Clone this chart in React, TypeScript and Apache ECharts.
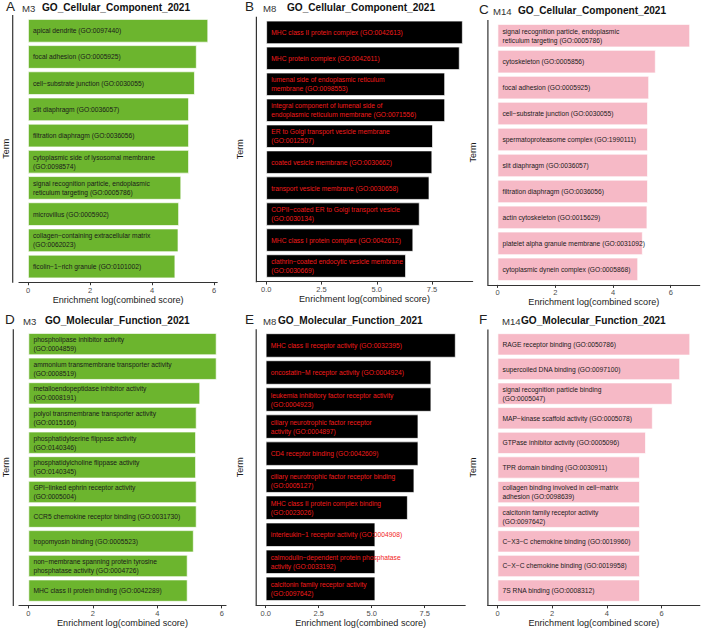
import React, { useEffect, useRef } from "react";
import * as echarts from "echarts";

// ---- data ----
const termsA = [
  "apical dendrite (GO:0097440)",
  "focal adhesion (GO:0005925)",
  "cell−substrate junction (GO:0030055)",
  "slit diaphragm (GO:0036057)",
  "filtration diaphragm (GO:0036056)",
  "cytoplasmic side of lysosomal membrane\n(GO:0098574)",
  "signal recognition particle, endoplasmic\nreticulum targeting (GO:0005786)",
  "microvillus (GO:0005902)",
  "collagen−containing extracellular matrix\n(GO:0062023)",
  "ficolin−1−rich granule (GO:0101002)",
];
const scoresA = [5.81, 5.44, 5.38, 5.19, 5.19, 5.19, 4.94, 4.87, 4.85, 4.75];

const termsB = [
  "MHC class II protein complex (GO:0042613)",
  "MHC protein complex (GO:0042611)",
  "lumenal side of endoplasmic reticulum\nmembrane (GO:0098553)",
  "integral component of lumenal side of\nendoplasmic reticulum membrane (GO:0071556)",
  "ER to Golgi transport vesicle membrane\n(GO:0012507)",
  "coated vesicle membrane (GO:0030662)",
  "transport vesicle membrane (GO:0030658)",
  "COPII−coated ER to Golgi transport vesicle\n(GO:0030134)",
  "MHC class I protein complex (GO:0042612)",
  "clathrin−coated endocytic vesicle membrane\n(GO:0030669)",
];
const scoresB = [8.89, 8.75, 8.09, 8.09, 7.54, 7.51, 7.38, 6.94, 6.65, 6.32];

const termsC = [
  "signal recognition particle, endoplasmic\nreticulum targeting (GO:0005786)",
  "cytoskeleton (GO:0005856)",
  "focal adhesion (GO:0005925)",
  "cell−substrate junction (GO:0030055)",
  "spermatoproteasome complex (GO:1990111)",
  "slit diaphragm (GO:0036057)",
  "filtration diaphragm (GO:0036056)",
  "actin cytoskeleton (GO:0015629)",
  "platelet alpha granule membrane (GO:0031092)",
  "cytoplasmic dynein complex (GO:0005868)",
];
const scoresC = [6.67, 5.48, 5.25, 5.21, 5.21, 5.21, 5.21, 5.19, 5.03, 4.87];

const termsD = [
  "phospholipase inhibitor activity\n(GO:0004859)",
  "ammonium transmembrane transporter activity\n(GO:0008519)",
  "metalloendopeptidase inhibitor activity\n(GO:0008191)",
  "polyol transmembrane transporter activity\n(GO:0015166)",
  "phosphatidylserine flippase activity\n(GO:0140346)",
  "phosphatidylcholine flippase activity\n(GO:0140345)",
  "GPI−linked ephrin receptor activity\n(GO:0005004)",
  "CCR5 chemokine receptor binding (GO:0031730)",
  "tropomyosin binding (GO:0005523)",
  "non−membrane spanning protein tyrosine\nphosphatase activity (GO:0004726)",
  "MHC class II protein binding (GO:0042289)",
];
const scoresD = [5.84, 5.84, 5.33, 5.22, 5.2, 5.2, 5.22, 5.22, 5.13, 4.94, 4.94];

const termsE = [
  "MHC class II receptor activity (GO:0032395)",
  "oncostatin−M receptor activity (GO:0004924)",
  "leukemia inhibitory factor receptor activity\n(GO:0004923)",
  "ciliary neurotrophic factor receptor\nactivity (GO:0004897)",
  "CD4 receptor binding (GO:0042609)",
  "ciliary neurotrophic factor receptor binding\n(GO:0005127)",
  "MHC class II protein complex binding\n(GO:0023026)",
  "interleukin−1 receptor activity (GO:0004908)",
  "calmodulin−dependent protein phosphatase\nactivity (GO:0033192)",
  "calcitonin family receptor activity\n(GO:0097642)",
];
const scoresE = [8.96, 7.81, 7.81, 7.2, 7.2, 7.01, 6.7, 5.17, 5.17, 5.17];

const termsF = [
  "RAGE receptor binding (GO:0050786)",
  "supercoiled DNA binding (GO:0097100)",
  "signal recognition particle binding\n(GO:0005047)",
  "MAP−kinase scaffold activity (GO:0005078)",
  "GTPase inhibitor activity (GO:0005096)",
  "TPR domain binding (GO:0030911)",
  "collagen binding involved in cell−matrix\nadhesion (GO:0098639)",
  "calcitonin family receptor activity\n(GO:0097642)",
  "C−X3−C chemokine binding (GO:0019960)",
  "C−X−C chemokine binding (GO:0019958)",
  "7S RNA binding (GO:0008312)",
];
const scoresF = [7.05, 6.68, 6.4, 5.68, 5.43, 5.21, 5.21, 5.21, 5.21, 5.21, 5.21];

const ticksWhole = [0, 2, 4, 6];
const ticksHalf = [0, 2.5, 5, 7.5];

// ---- styling / layout ----
const FONT = "'Liberation Sans', Arial, sans-serif";
const GREEN = "#6CB52E";
const BLACK = "#000000";
const PINK = "#F6B9C6";
const RED = "#F21B1B";
const INK = "#1A1A1A";
const AXIS = "#333333";

const panels = [
  {
    letter: "A", module: "M3", library: "GO_Cellular_Component_2021",
    terms: termsA, scores: scoresA, ticks: ticksWhole, decimals: 0, fill: GREEN, text: INK,
    gridLeft: 12.7, gridRight: 217.2, barTop: 19, barBottom: 278.3,
    letterX: 6, moduleX: 22, titleX: 42, headY: 7, termGap: 9,
  },
  {
    letter: "B", module: "M8", library: "GO_Cellular_Component_2021",
    terms: termsB, scores: scoresB, ticks: ticksHalf, decimals: 1, fill: BLACK, text: RED,
    gridLeft: 256.4, gridRight: 472.6, barTop: 20.7, barBottom: 277.7,
    letterX: 245, moduleX: 263, titleX: 287, headY: 7, termGap: 12,
  },
  {
    letter: "C", module: "M14", library: "GO_Cellular_Component_2021",
    terms: termsC, scores: scoresC, ticks: ticksWhole, decimals: 0, fill: PINK, text: INK,
    gridLeft: 487.9, gridRight: 699.7, barTop: 24, barBottom: 281,
    letterX: 479, moduleX: 493, titleX: 518, headY: 10, termGap: 10,
  },
  {
    letter: "D", module: "M3", library: "GO_Molecular_Function_2021",
    terms: termsD, scores: scoresD, ticks: ticksWhole, decimals: 0, fill: GREEN, text: INK,
    gridLeft: 13.3, gridRight: 226, barTop: 333, barBottom: 601.7,
    letterX: 5, moduleX: 23, titleX: 45, headY: 320, termGap: 9,
  },
  {
    letter: "E", module: "M8", library: "GO_Molecular_Function_2021",
    terms: termsE, scores: scoresE, ticks: ticksHalf, decimals: 1, fill: BLACK, text: RED,
    gridLeft: 256.2, gridRight: 465.2, barTop: 333.3, barBottom: 601,
    letterX: 245, moduleX: 263, titleX: 278, headY: 320, termGap: 12,
  },
  {
    letter: "F", module: "M14", library: "GO_Molecular_Function_2021",
    terms: termsF, scores: scoresF, ticks: ticksWhole, decimals: 0, fill: PINK, text: INK,
    gridLeft: 487.9, gridRight: 699.8, barTop: 333.3, barBottom: 601.7,
    letterX: 479, moduleX: 502, titleX: 521, headY: 320, termGap: 10,
  },
];

function buildOption() {
  const grid: any[] = [];
  const xAxis: any[] = [];
  const yAxis: any[] = [];
  const series: any[] = [];
  const graphic: any[] = [];

  panels.forEach((p, i) => {
    const n = p.scores.length;
    const pitch = (p.barBottom - p.barTop) / (n - 0.1);
    const top = p.barTop - 0.05 * pitch;
    const height = n * pitch;
    const maxScore = Math.max(...p.scores);

    grid.push({ left: p.gridLeft, top, width: p.gridRight - p.gridLeft, height });

    xAxis.push({
      type: "value",
      gridIndex: i,
      min: -0.05 * maxScore,
      max: 1.05 * maxScore,
      offset: 0.1 * pitch,
      splitLine: { show: false },
      axisLine: { show: true, lineStyle: { color: AXIS, width: 1.2 } },
      axisTick: { show: true, length: 3, customValues: p.ticks, lineStyle: { color: AXIS, width: 1 } },
      axisLabel: {
        customValues: p.ticks,
        margin: 4,
        fontSize: 7.5,
        fontFamily: FONT,
        color: "#4D4D4D",
        formatter: (v: number) => v.toFixed(p.decimals),
      },
      name: "Enrichment log(combined score)",
      nameLocation: "middle",
      nameGap: 13,
      nameTextStyle: { fontSize: 9.1, fontFamily: FONT, color: INK },
    });

    yAxis.push({
      type: "category",
      gridIndex: i,
      inverse: true,
      data: p.terms,
      axisLine: { show: false },
      axisTick: { show: false },
      axisLabel: { show: false },
      splitLine: { show: false },
      name: "Term",
      nameLocation: "middle",
      nameGap: p.termGap,
      nameTextStyle: { fontSize: 9, fontFamily: FONT, color: INK },
    });

    series.push({
      type: "bar",
      xAxisIndex: i,
      yAxisIndex: i,
      data: p.scores,
      barCategoryGap: "10%",
      silent: true,
      itemStyle: { color: p.fill, borderColor: "rgba(255,255,255,0.85)", borderWidth: 0.8 },
      label: {
        show: true,
        position: "insideLeft",
        distance: 5,
        formatter: "{b}",
        fontSize: 6.7,
        lineHeight: 9,
        fontFamily: FONT,
        color: p.text,
      },
    });

    // left axis line, spanning the full (expanded) panel height
    graphic.push({
      type: "line",
      silent: true,
      shape: {
        x1: p.gridLeft, y1: p.barTop - 0.15 * pitch,
        x2: p.gridLeft, y2: p.barBottom + 0.15 * pitch + 0.6,
      },
      style: { stroke: AXIS, lineWidth: 1.2 },
    });

    // panel heading: letter, module and library name
    graphic.push({
      type: "text", x: p.letterX, y: p.headY - 1, silent: true,
      style: { text: p.letter, fontSize: 13.5, fontFamily: FONT, fill: "#222", verticalAlign: "middle" },
    });
    graphic.push({
      type: "text", x: p.moduleX, y: p.headY + 1, silent: true,
      style: { text: p.module, fontSize: 9.6, fontFamily: FONT, fill: "#333", verticalAlign: "middle" },
    });
    graphic.push({
      type: "text", x: p.titleX, y: p.headY, silent: true,
      style: { text: p.library, fontSize: 10.1, fontWeight: "bold", fontFamily: FONT, fill: "#111", verticalAlign: "middle" },
    });
  });

  return {
    animation: false,
    backgroundColor: "#ffffff",
    textStyle: { fontFamily: FONT },
    grid,
    xAxis,
    yAxis,
    series,
    graphic,
  };
}

export default function App() {
  const ref = useRef<HTMLDivElement>(null);

  useEffect(() => {
    if (!ref.current) return;
    const chart = echarts.init(ref.current, undefined, { renderer: "svg" });
    chart.setOption(buildOption() as any);
    return () => chart.dispose();
  }, []);

  return (
    <div
      ref={ref}
      style={{ position: "fixed", left: 0, top: 0, width: 702, height: 629, background: "#fff" }}
    />
  );
}
